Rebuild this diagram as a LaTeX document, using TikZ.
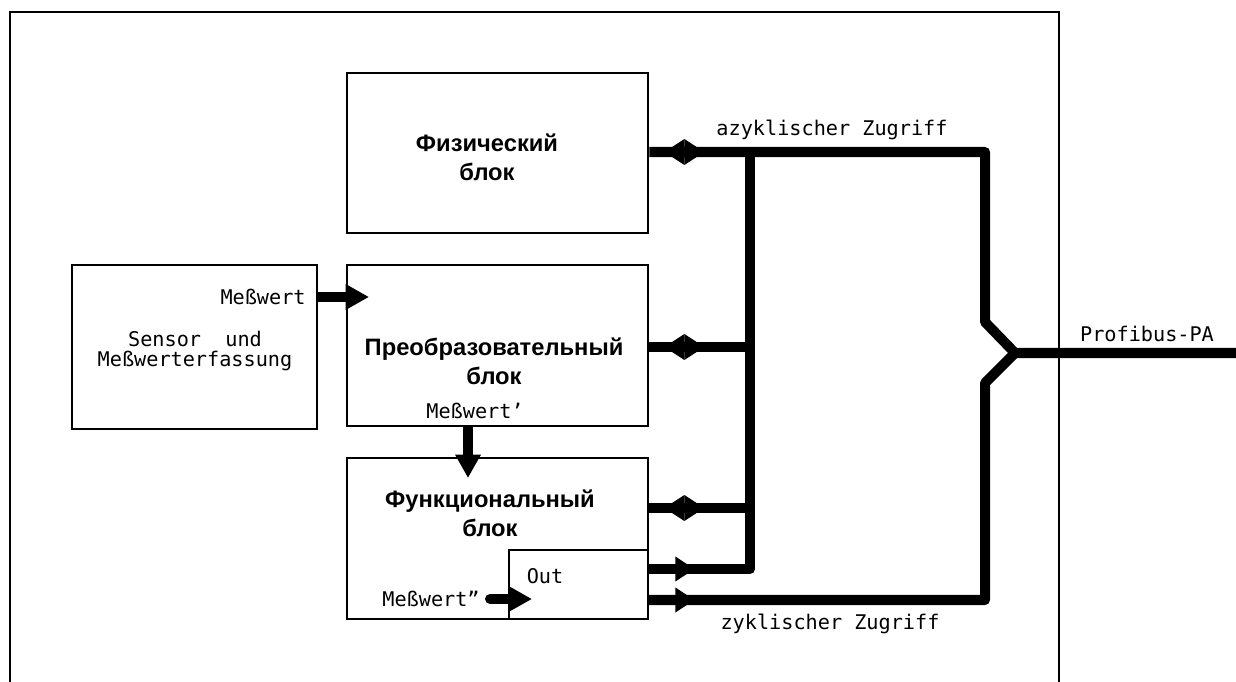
\documentclass[tikz,border=0pt]{standalone}
\usepackage{fontspec}
\setmainfont{Liberation Sans}
\newfontfamily\plotfont{DejaVu Sans Mono}
\usetikzlibrary{arrows.meta,calc}

\tikzset{
  block/.style={draw, line width=1.6pt, inner sep=0pt},
  title/.style={font=\fontsize{13.5}{16.5}\selectfont\bfseries, align=center},
  lbl/.style={font=\plotfont\fontsize{11.5}{11.5}\selectfont, inner sep=0pt, align=center},
  bus/.style={line width=5.7pt, line join=round},
  flow/.style={bus, -{Triangle[length=0.46cm, width=0.52cm, line width=0pt]}},
  tap/.style={bus, -{Triangle[length=0.38cm, width=0.5cm, line width=0pt]}},
  duplex/.style={bus, {Triangle[length=0.4cm, width=0.52cm, line width=0pt]}-{Triangle[length=0.4cm, width=0.52cm, line width=0pt]}},
}

\begin{document}
\begin{tikzpicture}[x=0.02cm, y=-0.02cm]
    \useasboundingbox (0,0) rectangle (1236,682);
    \draw[line width=1.1pt] (10,682) -- (10,12) -- (1059,12) -- (1059,682);

    % blocks
    \node[block, minimum width=6.02cm, minimum height=3.2cm] (phys) at (497.5,153) {};
    \node[block, minimum width=4.9cm, minimum height=3.28cm] (sensor) at (194.5,347) {};
    \node[block, minimum width=6.02cm, minimum height=3.22cm] (trans) at (497.5,345.5) {};
    \node[block, minimum width=6.02cm, minimum height=3.22cm] (func) at (497.5,538.5) {};
    \node[block, minimum width=2.78cm, minimum height=1.38cm] (out) at (578.5,584.5) {};

    % texts
    \node[title] (physname) at (487,157) {Физический\\блок};
    \node[title] (transname) at (494,361) {Преобразовательный\\блок};
    \node[title] (funcname) at (490,513) {Функциональный\\блок};
    \node[lbl, anchor=east] (mw) at (306,297) {Meßwert};
    \node[lbl] (sensorname) at (195,351) {Sensor\ \ und\\Meßwerterfassung};
    \node[lbl] (mw1) at (475,411) {Meßwert’};
    \node[lbl] (mw2) at (431,599) {Meßwert”};
    \node[lbl] (outname) at (545,576) {Out};
    \node[lbl] (azyk) at (832,130) {azyklischer Zugriff};
    \node[lbl] (zyk) at (830,624) {zyklischer Zugriff};
    \node[lbl] (pa) at (1147,334) {Profibus-PA};

    % bus
    \coordinate (ajoin) at (750,152);
    \coordinate (abot) at (750,569);
    \coordinate (atop) at (985,152);
    \coordinate (split) at (1015,353);
    \coordinate (paend) at (1236,353);
    \draw[bus] (phys.east |- ajoin) -- (atop) -- (985,322) -- (split) -- (paend);
    \draw[bus] (ajoin) -- (abot) -- (abot -| func.east);
    \foreach \n/\y in {trans/347, func/508}
        \draw[bus] (\n.east |- 0,\y) -- (750,\y);
    \draw[bus] (func.east |- 0,600) -- (985,600) -- (985,383) -- (split);
    \foreach \n/\y in {phys/152, trans/347, func/508}
        \draw[duplex] ($(\n.east |- 0,\y)+(15,0)$) -- ++(40,0);
    \foreach \y in {569,600}
        \draw[tap] (func.east |- 0,\y) -- ++(45,0);

    % measured value
    \draw[flow] (sensor.east |- mw.east) -- ($(trans.west |- mw.east)+(23,0)$);
    \draw[flow] (trans.south -| 468,0) -- ($(func.north -| 468,0)+(0,21)$);
    \draw[flow, line cap=round] ($(mw2.east)+(10,0)$) -- ($(out.west |- mw2.east)+(24,0)$);
\end{tikzpicture}
\end{document}
